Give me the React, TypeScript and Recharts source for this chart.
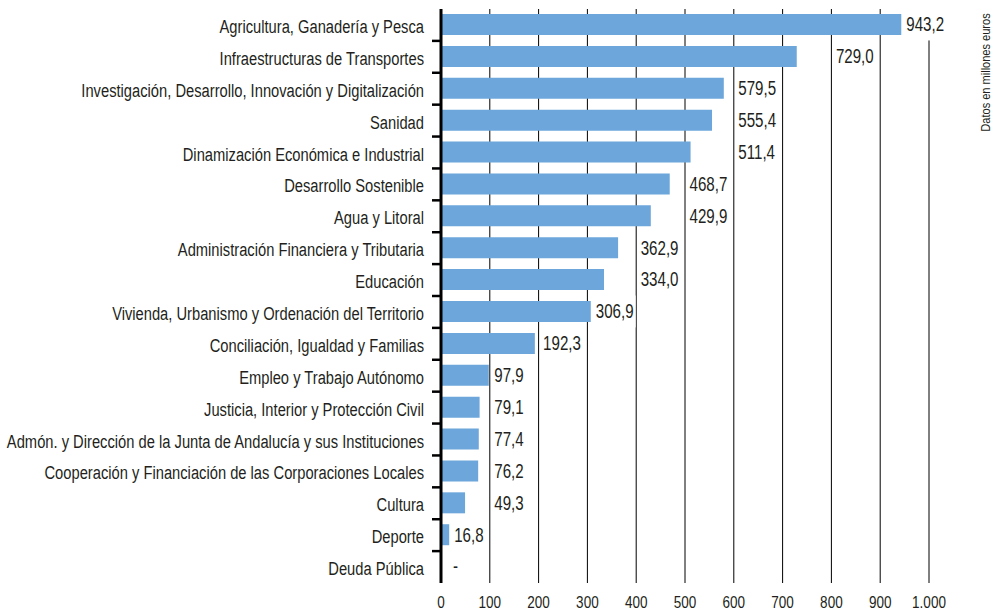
import React from 'react';
import { BarChart, Bar, XAxis, YAxis, CartesianGrid, LabelList } from 'recharts';

const categories = [
  'Agricultura, Ganadería y Pesca',
  'Infraestructuras de Transportes',
  'Investigación, Desarrollo, Innovación y Digitalización',
  'Sanidad',
  'Dinamización Económica e Industrial',
  'Desarrollo Sostenible',
  'Agua y Litoral',
  'Administración Financiera y Tributaria',
  'Educación',
  'Vivienda, Urbanismo y Ordenación del Territorio',
  'Conciliación, Igualdad y Familias',
  'Empleo y Trabajo Autónomo',
  'Justicia, Interior y Protección Civil',
  'Admón. y Dirección de la Junta de Andalucía y sus Instituciones',
  'Cooperación y Financiación de las Corporaciones Locales',
  'Cultura',
  'Deporte',
  'Deuda Pública',
];

const values = [943.2, 729.0, 579.5, 555.4, 511.4, 468.7, 429.9, 362.9, 334.0, 306.9, 192.3, 97.9, 79.1, 77.4, 76.2, 49.3, 16.8, 0];

const xTicks = [0, 100, 200, 300, 400, 500, 600, 700, 800, 900, 1000];

const unitNote = 'Datos en millones euros';

const data = categories.map((name, i) => ({ name, value: values[i] }));

const W = 992;
const H = 611;
const MARGIN = { top: 9, right: 63, bottom: 0, left: 0 };
const Y_AXIS_W = 441;
const X_AXIS_H = 28;
const DOMAIN_MAX = 1000;
const GRID_STEP = 100;
const PLOT_W = W - MARGIN.left - MARGIN.right - Y_AXIS_W;
const PLOT_BOTTOM = H - MARGIN.bottom - X_AXIS_H;
const BAND = (PLOT_BOTTOM - MARGIN.top) / categories.length;
const AXIS_X = MARGIN.left + Y_AXIS_W;
const FONT = "'Liberation Sans', Arial, sans-serif";
const TEXT = '#231f20';
const BAR = '#6ca6da';

const fmtValue = (v: number) => (v === 0 ? '-' : v.toFixed(1).replace('.', ','));
const fmtTick = (v: number) => String(v).replace(/\B(?=(\d{3})+(?!\d))/g, '.');

const charW = (s: string) =>
  s.split('').reduce((a, c) => a + (c === ',' || c === '.' ? 0.278 : c === '-' ? 0.333 : 0.556), 0);

function CondText(props: {
  x: number; y: number; anchor: 'start' | 'middle' | 'end'; size: number; sx: number;
  rotate?: number; children: React.ReactNode;
}) {
  const { x, y, anchor, size, sx, rotate = 0, children } = props;
  return (
    <g transform={`translate(${x},${y}) rotate(${rotate}) scale(${sx},1)`}>
      <text x={0} y={0} textAnchor={anchor} fontSize={size} fontFamily={FONT} fill={TEXT}>
        {children}
      </text>
    </g>
  );
}

const YTick = (props: any) => {
  const { y, payload } = props;
  const i = categories.indexOf(payload.value);
  return (
    <g>
      <CondText x={AXIS_X - 17} y={y + 8} anchor="end" size={19} sx={0.775}>
        {payload.value}
      </CondText>
      {i < categories.length - 1 && (
        <line x1={AXIS_X - 9} x2={AXIS_X} y1={y + BAND / 2} y2={y + BAND / 2} stroke="#000" strokeWidth={2.5} />
      )}
    </g>
  );
};

const XTick = (props: any) => {
  const { x, payload } = props;
  return (
    <CondText x={x} y={PLOT_BOTTOM + 25} anchor="middle" size={16.5} sx={0.82}>
      {fmtTick(payload.value)}
    </CondText>
  );
};

const VALUE_SIZE = 21;
const VALUE_SX = 0.72;

const ValueLabel = (props: any) => {
  const { x, y, width, height, value } = props;
  const v = Number(value);
  const unit = PLOT_W / DOMAIN_MAX;
  const x0 = Number(x);
  const barEnd = x0 + Number(width || 0);
  const label = fmtValue(v);
  const tw = charW(label) * VALUE_SIZE * VALUE_SX;
  const next = Math.ceil(v / GRID_STEP) * GRID_STEP;
  const gridX = x0 + next * unit;
  let tx: number;
  if (v === 0) tx = barEnd + 12;
  else if (next < DOMAIN_MAX && barEnd + 5 + tw + 2 > gridX) tx = gridX + 4.5;
  else tx = barEnd + 5;
  const cy = Number(y) + Number(height) / 2;
  return (
    <g>
      <rect x={tx - 2} y={cy - BAND / 2} width={tw + 4} height={BAND} fill="#fff" />
      <CondText x={tx} y={cy + 6.8} anchor="start" size={VALUE_SIZE} sx={VALUE_SX}>
        {label}
      </CondText>
    </g>
  );
};

export default function App() {
  return (
    <div style={{ position: 'absolute', left: 0, top: 0, width: W, height: H, background: '#fff' }}>
      <BarChart
        width={W}
        height={H}
        data={data}
        layout="vertical"
        margin={MARGIN}
        barCategoryGap={0}
      >
        <CartesianGrid horizontal={false} vertical={true} stroke="#000" strokeWidth={1} />
        <XAxis
          type="number"
          domain={[0, DOMAIN_MAX]}
          ticks={xTicks}
          axisLine={false}
          tickLine={false}
          height={X_AXIS_H}
          tick={<XTick />}
          interval={0}
        />
        <YAxis
          type="category"
          dataKey="name"
          width={Y_AXIS_W}
          axisLine={{ stroke: '#000', strokeWidth: 3 }}
          tickLine={false}
          tick={<YTick />}
          interval={0}
        />
        <Bar dataKey="value" fill={BAR} barSize={21} minPointSize={0.01} isAnimationActive={false}>
          <LabelList dataKey="value" content={<ValueLabel />} />
        </Bar>
      </BarChart>
      <svg width={W} height={H} style={{ position: 'absolute', left: 0, top: 0, pointerEvents: 'none' }}>
        <CondText x={990} y={72.5} anchor="middle" size={13} sx={0.85} rotate={-90}>
          {unitNote}
        </CondText>
      </svg>
    </div>
  );
}
